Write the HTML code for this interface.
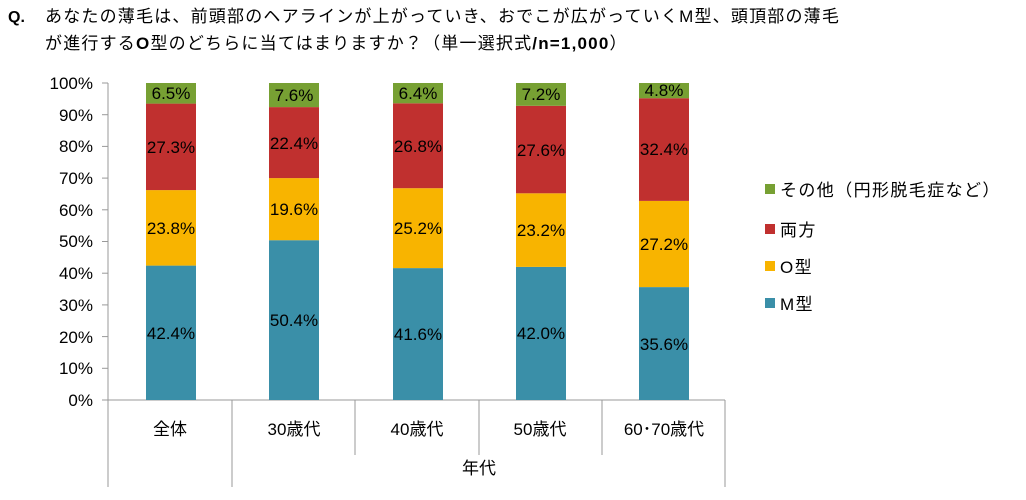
<!DOCTYPE html>
<html><head><meta charset="utf-8"><style>
body{margin:0;background:#fff;}
svg text{font-family:"Liberation Sans","Noto Sans CJK JP",sans-serif;}
</style></head><body>
<svg width="1026" height="495" xmlns="http://www.w3.org/2000/svg">
<text x="8" y="22" font-size="16" font-weight="bold" fill="#000">Q.</text>
<text x="45" y="22" font-size="17" letter-spacing="1.2" fill="#000">あなたの薄毛は、前頭部のヘアラインが上がっていき、おでこが広がっていくM型、頭頂部の薄毛</text>
<text x="45" y="49" font-size="17" letter-spacing="1.2" fill="#000">が進行する<tspan font-weight="bold">O</tspan>型のどちらに当てはまりますか？（単一選択式<tspan font-weight="bold">/n=1,000</tspan>）</text>
<g stroke="#999" stroke-width="1">
<line x1="108" y1="83" x2="108" y2="487"/>
<line x1="102" y1="400" x2="725" y2="400"/>
<line x1="102" y1="83" x2="108" y2="83"/><line x1="102" y1="114.7" x2="108" y2="114.7"/><line x1="102" y1="146.4" x2="108" y2="146.4"/><line x1="102" y1="178.1" x2="108" y2="178.1"/><line x1="102" y1="209.8" x2="108" y2="209.8"/><line x1="102" y1="241.5" x2="108" y2="241.5"/><line x1="102" y1="273.2" x2="108" y2="273.2"/><line x1="102" y1="304.9" x2="108" y2="304.9"/><line x1="102" y1="336.6" x2="108" y2="336.6"/><line x1="102" y1="368.3" x2="108" y2="368.3"/>
<line x1="232" y1="400" x2="232" y2="487"/>
<line x1="355" y1="400" x2="355" y2="455"/>
<line x1="479" y1="400" x2="479" y2="455"/>
<line x1="602" y1="400" x2="602" y2="455"/>
<line x1="725" y1="400" x2="725" y2="487"/>
</g>
<g font-size="17" fill="#000" text-anchor="end">
<text x="93" y="89">100%</text><text x="93" y="121">90%</text><text x="93" y="152">80%</text><text x="93" y="184">70%</text><text x="93" y="216">60%</text><text x="93" y="247">50%</text><text x="93" y="279">40%</text><text x="93" y="311">30%</text><text x="93" y="343">20%</text><text x="93" y="374">10%</text><text x="93" y="406">0%</text>
</g>
<g>
<rect x="146" y="265.6" width="50" height="134.4" fill="#3A8FA8"/><rect x="146" y="190.1" width="50" height="75.5" fill="#F8B400"/><rect x="146" y="103.6" width="50" height="86.5" fill="#C0302F"/><rect x="146" y="83" width="50" height="20.6" fill="#77A033"/>
<rect x="269" y="240.2" width="50" height="159.8" fill="#3A8FA8"/><rect x="269" y="178.1" width="50" height="62.1" fill="#F8B400"/><rect x="269" y="107.1" width="50" height="71" fill="#C0302F"/><rect x="269" y="83" width="50" height="24.1" fill="#77A033"/>
<rect x="393" y="268.1" width="50" height="131.9" fill="#3A8FA8"/><rect x="393" y="188.2" width="50" height="79.9" fill="#F8B400"/><rect x="393" y="103.3" width="50" height="84.9" fill="#C0302F"/><rect x="393" y="83" width="50" height="20.3" fill="#77A033"/>
<rect x="516" y="266.9" width="50" height="133.1" fill="#3A8FA8"/><rect x="516" y="193.3" width="50" height="73.6" fill="#F8B400"/><rect x="516" y="105.8" width="50" height="87.5" fill="#C0302F"/><rect x="516" y="83" width="50" height="22.8" fill="#77A033"/>
<rect x="639" y="287.1" width="50" height="112.9" fill="#3A8FA8"/><rect x="639" y="200.9" width="50" height="86.2" fill="#F8B400"/><rect x="639" y="98.2" width="50" height="102.7" fill="#C0302F"/><rect x="639" y="83" width="50" height="15.2" fill="#77A033"/>
</g>
<g font-size="17" fill="#000" text-anchor="middle">
<text x="171" y="339">42.4%</text><text x="171" y="234">23.8%</text><text x="171" y="153">27.3%</text><text x="171" y="99">6.5%</text>
<text x="294" y="326">50.4%</text><text x="294" y="215">19.6%</text><text x="294" y="149">22.4%</text><text x="294" y="101">7.6%</text>
<text x="418" y="340">41.6%</text><text x="418" y="234">25.2%</text><text x="418" y="152">26.8%</text><text x="418" y="99">6.4%</text>
<text x="541" y="339">42.0%</text><text x="541" y="236">23.2%</text><text x="541" y="156">27.6%</text><text x="541" y="100">7.2%</text>
<text x="664" y="350">35.6%</text><text x="664" y="250">27.2%</text><text x="664" y="155">32.4%</text><text x="664" y="96">4.8%</text>
</g>
<g font-size="17" fill="#000" text-anchor="middle">
<text x="170" y="435">全体</text><text x="294" y="435">30歳代</text><text x="417" y="435">40歳代</text><text x="540" y="435">50歳代</text><text x="664" y="435">60･70歳代</text>
<text x="479" y="474">年代</text>
</g>
<rect x="765" y="184" width="10" height="10" fill="#77A033"/>
<rect x="765" y="224" width="10" height="10" fill="#C0302F"/>
<rect x="765" y="261" width="10" height="10" fill="#F8B400"/>
<rect x="765" y="298" width="10" height="10" fill="#3A8FA8"/>
<g font-size="17" fill="#000" letter-spacing="1.4">
<text x="780" y="196">その他（円形脱毛症など）</text>
<text x="780" y="236">両方</text>
<text x="780" y="273">O型</text>
<text x="780" y="310">M型</text>
</g>
</svg>
</body></html>
